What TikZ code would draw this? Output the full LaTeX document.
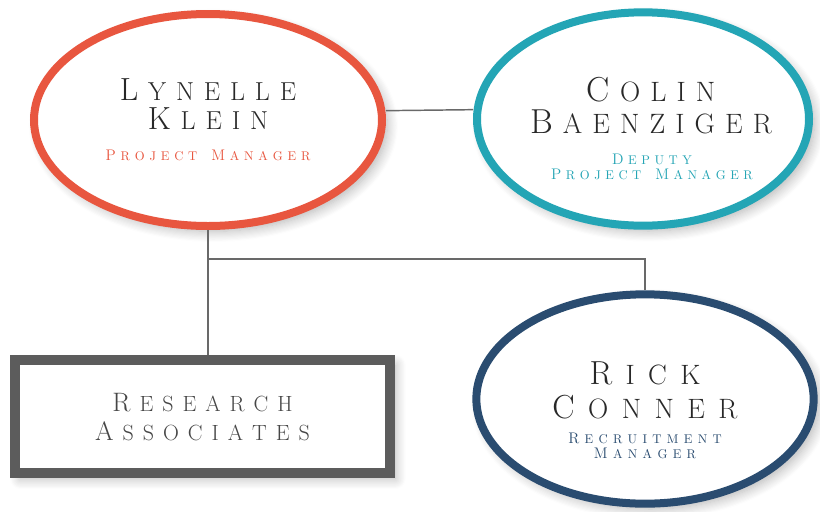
\documentclass[tikz,border=0pt]{standalone}
\usepackage{fontspec}
\usetikzlibrary{shapes.geometric,positioning,shadows.blur}
\definecolor{lynred}{RGB}{232,86,63}
\definecolor{colteal}{RGB}{36,165,181}
\definecolor{ricknavy}{RGB}{42,76,112}
\definecolor{boxgray}{RGB}{92,92,92}
\definecolor{linkgray}{RGB}{105,105,105}
\definecolor{namegray}{RGB}{40,40,40}
\newlength{\lsgap}
\def\inisize{24}
\ExplSyntaxOn
\NewDocumentCommand{\spaced}{m}{\tl_map_inline:nn {#1} {##1\kern\lsgap}\unkern}
\ExplSyntaxOff
\newcommand{\scword}[2]{{\fontsize{\inisize}{\inisize}\selectfont #1}\kern\lsgap\spaced{#2}}
\newcommand{\wsp}{\hspace{1.1em}}
\tikzset{
  person/.style={ellipse, draw=#1, line width=6pt, fill=white, inner sep=0pt,
    blur shadow={shadow blur steps=10, shadow xshift=4pt, shadow yshift=-4pt, shadow blur radius=8pt, shadow opacity=30}},
  teambox/.style={rectangle, draw=boxgray, line width=7.5pt, fill=white, inner sep=0pt,
    blur shadow={shadow blur steps=10, shadow xshift=4pt, shadow yshift=-4pt, shadow blur radius=8pt, shadow opacity=30}},
  % #1 = size, #2 = initial size, #3 = baselineskip, #4 = letter gap
  textstyle/.style n args={4}{align=center, inner sep=0pt,
    font={\fontsize{#1}{#3}\selectfont\setlength{\lsgap}{#4em}\def\inisize{#2}}},
  namefont/.style={textstyle={19.5}{24}{21.75}{0.38}, text=namegray},
  rolefont/.style={textstyle={9.5}{11.5}{11}{#1}},
  link/.style={draw=linkgray, line width=1.1pt},
}
\begin{document}
\begin{tikzpicture}[x=0.75pt,y=0.75pt,yscale=-1,xscale=1]
\useasboundingbox (0,0) rectangle (820,511);

%Shape: Ellipse [lynelle]
\node[person=lynred, minimum width=261pt, minimum height=159pt] (lynelle) at (208,120) {};
%Shape: Ellipse [colin]
\node[person=colteal, minimum width=249pt, minimum height=160pt] (colin) at (643,119) {};
%Shape: Ellipse [rick]
\node[person=ricknavy, minimum width=253pt, minimum height=157pt] (rick) at (645,399) {};
%Shape: Rectangle [research]
\node[teambox, minimum width=281pt, minimum height=85pt] (research) at (202.5,416.5) {};

%Straight Lines
\draw[link] ([yshift=-7pt]lynelle.east) -- ([yshift=-7pt]colin.west);
\coordinate (branch) at (lynelle.south |- 0,259);
\draw[link] (lynelle.south) -- (lynelle.south |- research.north);
\draw[link] (branch) -- (branch -| rick.north) -- (rick.north);

% Text Node
\node[namefont] (lynelle-name) at (208,104) {\scword{L}{YNELLE}\\\scword{K}{LEIN}};
% Text Node
\node[rolefont=0.38, text=lynred] (lynelle-role) at (208,155) {\scword{P}{ROJECT}\wsp\scword{M}{ANAGER}};
% Text Node
\node[namefont, textstyle={21}{26}{24}{0.36}] (colin-name) at (651,106) {\scword{C}{OLIN}\\\scword{B}{AENZIGER}};
% Text Node
\node[rolefont=0.36, text=colteal] (colin-role) at (652,167) {\scword{D}{EPUTY}\\\scword{P}{ROJECT}\wsp\scword{M}{ANAGER}};
% Text Node
\node[namefont, textstyle={21}{25}{25.5}{0.48}] (rick-name) at (645,390) {\scword{R}{ICK}\\\scword{C}{ONNER}};
% Text Node
\node[rolefont=0.42, text=ricknavy] (rick-role) at (645,446) {\scword{R}{ECRUITMENT}\\\scword{M}{ANAGER}};
% Text Node
\node[textstyle={16.5}{20}{22}{0.41}, text={rgb,255:red,70;green,70;blue,70}] (research-text) at (202.5,417) {\scword{R}{ESEARCH}\\\scword{A}{SSOCIATES}};

\end{tikzpicture}
\end{document}
